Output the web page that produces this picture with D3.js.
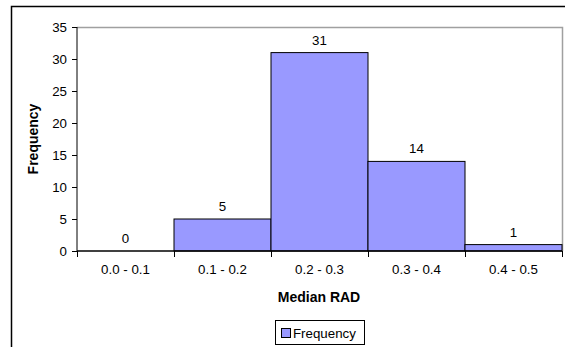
<!DOCTYPE html>
<html><head><meta charset="utf-8">
<script src="https://cdn.jsdelivr.net/npm/d3@7"></script>
<style>body{margin:0;background:#fff}svg{display:block;font-family:"Liberation Sans",Arial,sans-serif}</style>
</head><body><svg id="c" width="565" height="347"></svg>
<script>
const categories = ["0.0 - 0.1","0.1 - 0.2","0.2 - 0.3","0.3 - 0.4","0.4 - 0.5"];
const frequency = [0,5,31,14,1];
const yTicks = [0,5,10,15,20,25,30,35];
const seriesName = "Frequency";
const xTitle = "Median RAD";
const yTitle = "Frequency";

const svg = d3.select("#c");
const L = 77, R = 562, T = 27, B = 251;
const FS = 13.3, FB = 14;
const x = d3.scaleBand().domain(categories).range([L, R]).padding(0);
const y = d3.scaleLinear().domain([0, 35]).range([B, T]);

// outer border
svg.append("rect").attr("x",11.5).attr("y",6.5).attr("width",600).attr("height",400)
  .attr("fill","none").attr("stroke","#000").attr("stroke-width",1.5);

// plot area border (gray)
svg.append("path").attr("d",`M${L},${T+0.5}H${R+0.5}V${B}`).attr("fill","none").attr("stroke","#a0a0a0").attr("stroke-width",1.5);

// bars
svg.selectAll("rect.bar").data(frequency).join("rect").attr("class","bar")
  .attr("x",(d,i)=>x(categories[i])).attr("y",d=>y(d))
  .attr("width",x.bandwidth()).attr("height",d=>B-y(d))
  .attr("fill","#9999ff").attr("stroke","#000").attr("stroke-width",1);

// data labels
svg.selectAll("text.lab").data(frequency).join("text").attr("class","lab")
  .attr("x",(d,i)=>x(categories[i])+x.bandwidth()/2).attr("y",d=>y(d)-8)
  .attr("text-anchor","middle").attr("font-size",FS).attr("fill","#000").text(d=>d);

// y axis
const ya = svg.append("g").attr("transform",`translate(${L},0)`)
  .call(d3.axisLeft(y).tickValues(yTicks).tickSize(5).tickPadding(5));
ya.select(".domain").attr("d",`M0,${T}V${B}`).attr("stroke","#000");
ya.selectAll("text").attr("font-size",FS).attr("font-family","Liberation Sans, Arial, sans-serif").attr("fill","#000");

// x axis
const xa = svg.append("g").attr("transform",`translate(0,${B})`)
  .call(d3.axisBottom(x).tickSize(0).tickPadding(14));
xa.select(".domain").attr("d",`M${L},0H${R}`).attr("stroke","#000").attr("stroke-width",1.5);
xa.selectAll("text").attr("font-size",FS).attr("font-family","Liberation Sans, Arial, sans-serif").attr("fill","#000");
const bounds = categories.map(c=>x(c)).concat([R]);
svg.append("g").selectAll("line").data(bounds).join("line")
  .attr("x1",d=>d+0.5).attr("x2",d=>d+0.5).attr("y1",B).attr("y2",B+6).attr("stroke","#000");

// axis titles
svg.append("text").attr("x",(L+R)/2 - 0.5).attr("y",302).attr("text-anchor","middle")
  .attr("font-size",FB).attr("font-weight","bold").text(xTitle);
svg.append("text").attr("transform",`translate(38,${(T+B)/2}) rotate(-90)`).attr("text-anchor","middle")
  .attr("font-size",FB).attr("font-weight","bold").text(yTitle);

// legend
const lg = svg.append("g");
lg.append("rect").attr("x",275.5).attr("y",320.5).attr("width",89).attr("height",24).attr("fill","#fff").attr("stroke","#000");
lg.append("rect").attr("x",281.5).attr("y",328.5).attr("width",9).attr("height",9).attr("fill","#9999ff").attr("stroke","#000");
lg.append("text").attr("x",293).attr("y",337.5).attr("font-size",FS).text(seriesName);
</script></body></html>
